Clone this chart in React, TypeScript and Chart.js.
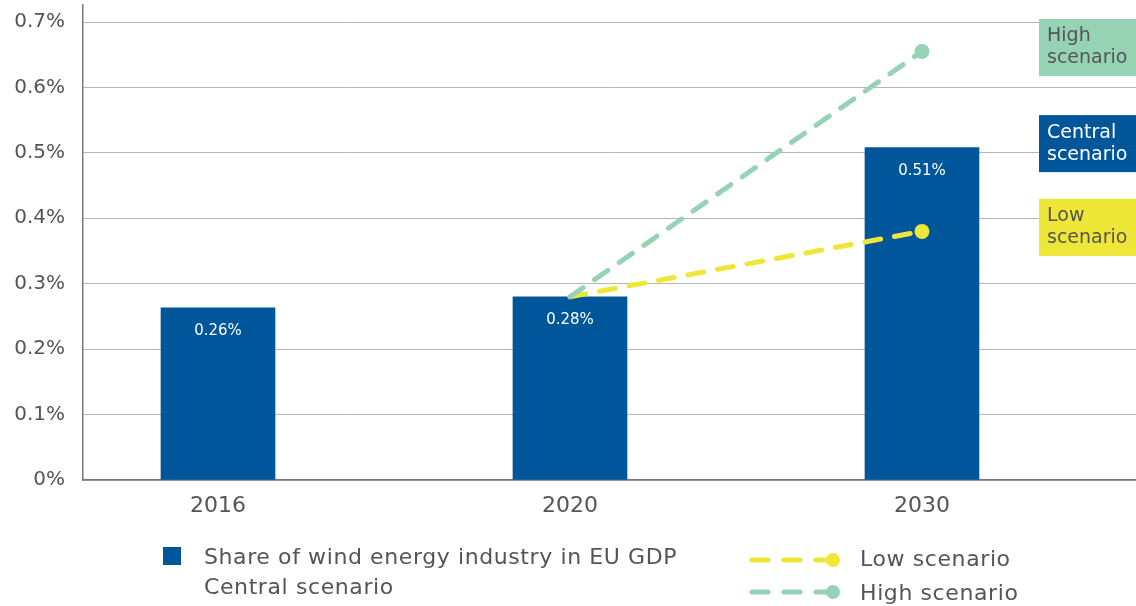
import React, { useEffect, useRef } from "react";
import { Chart, registerables } from "chart.js";

Chart.register(...registerables);

const years = ["2016", "2020", "2030"];
const yearPositions = [0, 1, 2];
const centralShare = [0.263, 0.28, 0.508];
const barLabels = ["0.26%", "0.28%", "0.51%"];
const lowScenario = [null, 0.28, 0.38];
const highScenario = [null, 0.28, 0.655];
const yTickValues = [0, 0.1, 0.2, 0.3, 0.4, 0.5, 0.6, 0.7];
const scenarioBoxes = [
  { lines: ["High", "scenario"], value: 0.655, bg: "#96d3b5", fg: "#555555" },
  { lines: ["Central", "scenario"], value: 0.508, bg: "#00569a", fg: "#ffffff" },
  { lines: ["Low", "scenario"], value: 0.38, bg: "#efe737", fg: "#555555" },
];
const legendBarLines = ["Share of wind energy industry in EU GDP", "Central scenario"];
const legendLines = [
  { label: "Low scenario", color: "#efe737" },
  { label: "High scenario", color: "#96d3b5" },
];

const FONT = "'DejaVu Sans', sans-serif";
const BLUE = "#00569a";
const YELLOW = "#efe737";
const GREEN = "#96d3b5";
const TEXT = "#555555";

function toPoints(arr: (number | null)[]) {
  const pts: { x: number; y: number }[] = [];
  arr.forEach((v, i) => {
    if (v !== null) pts.push({ x: yearPositions[i], y: v });
  });
  return pts;
}

const overlayPlugin = {
  id: "overlay",
  afterDatasetsDraw(chart: any) {
    const ctx = chart.ctx;
    const xs = chart.scales.x;
    const ys = chart.scales.y;
    ctx.save();
    ctx.fillStyle = "#ffffff";
    ctx.font = `15px ${FONT}`;
    ctx.textAlign = "center";
    ctx.textBaseline = "middle";
    centralShare.forEach((v, i) => {
      ctx.fillText(barLabels[i], xs.getPixelForValue(yearPositions[i]), ys.getPixelForValue(v) + 23);
    });
    ctx.restore();
  },
  afterDraw(chart: any) {
    const ctx = chart.ctx;
    const ys = chart.scales.y;
    const area = chart.chartArea;
    ctx.save();
    scenarioBoxes.forEach((b) => {
      const cy = ys.getPixelForValue(b.value) - 4;
      const h = 57;
      const left = area.right - 97;
      ctx.fillStyle = b.bg;
      ctx.fillRect(left, cy - h / 2, 97, h);
      ctx.fillStyle = b.fg;
      ctx.font = `19px ${FONT}`;
      ctx.textAlign = "left";
      ctx.textBaseline = "middle";
      ctx.fillText(b.lines[0], left + 8, cy - 11);
      ctx.fillText(b.lines[1], left + 8, cy + 11);
    });
    // legend
    ctx.fillStyle = BLUE;
    ctx.fillRect(163, 547, 18, 18);
    ctx.fillStyle = TEXT;
    ctx.font = `22px ${FONT}`;
    try {
      (ctx as any).letterSpacing = "0.6px";
    } catch (e) {}
    ctx.textAlign = "left";
    ctx.textBaseline = "alphabetic";
    ctx.fillText(legendBarLines[0], 204, 564);
    ctx.fillText(legendBarLines[1], 204, 594);
    legendLines.forEach((l, i) => {
      const y = 560 + i * 32;
      ctx.strokeStyle = l.color;
      ctx.lineWidth = 5;
      ctx.setLineDash([16, 16]);
      ctx.lineCap = "round";
      ctx.beginPath();
      ctx.moveTo(752, y);
      ctx.lineTo(832, y);
      ctx.stroke();
      ctx.setLineDash([]);
      ctx.fillStyle = l.color;
      ctx.beginPath();
      ctx.arc(833, y, 7, 0, Math.PI * 2);
      ctx.fill();
      ctx.fillStyle = TEXT;
      ctx.fillText(l.label, 860, 566 + i * 34);
    });
    ctx.restore();
  },
};

export default function App() {
  const ref = useRef<HTMLCanvasElement | null>(null);
  useEffect(() => {
    if (!ref.current) return;
    const lineStyle = {
      type: "line",
      borderWidth: 5,
      borderDash: [16, 14],
      borderCapStyle: "round",
      pointRadius: [0, 7.5],
      pointHoverRadius: [0, 7.5],
      pointBorderWidth: 0,
      fill: false,
      order: 0,
    };
    const chart = new Chart(ref.current, {
      type: "bar",
      data: {
        datasets: [
          {
            ...lineStyle,
            data: toPoints(highScenario),
            borderColor: GREEN,
            backgroundColor: GREEN,
          } as any,
          {
            ...lineStyle,
            data: toPoints(lowScenario),
            borderColor: YELLOW,
            backgroundColor: YELLOW,
          } as any,
          {
            type: "bar",
            data: centralShare.map((v, i) => ({ x: yearPositions[i], y: v })),
            backgroundColor: BLUE,
            barThickness: 114,
            order: 1,
          } as any,
        ],
      },
      options: {
        animation: false,
        responsive: false,
        maintainAspectRatio: false,
        layout: { autoPadding: false, padding: { top: 5, left: 0, right: 0, bottom: 0 } },
        plugins: { legend: { display: false }, tooltip: { enabled: false } },
        scales: {
          x: {
            type: "linear",
            min: -0.3835,
            max: 2.608,
            offset: false,
            afterBuildTicks: (s: any) => {
              s.ticks = yearPositions.map((v) => ({ value: v }));
            },
            afterFit: (s: any) => {
              s.height = 126;
              s.paddingLeft = 0;
              s.paddingRight = 0;
            },
            grid: { display: false, drawTicks: false },
            border: { display: true, color: "#777777", width: 1.5 },
            ticks: {
              padding: 13,
              color: TEXT,
              font: { family: FONT, size: 22 },
              callback: (v: any) => years[yearPositions.indexOf(Number(v))] ?? "",
              maxRotation: 0,
              autoSkip: false,
            },
          },
          y: {
            type: "linear",
            min: 0,
            max: 0.726,
            afterBuildTicks: (s: any) => {
              s.ticks = yTickValues.map((v) => ({ value: v }));
            },
            afterFit: (s: any) => {
              s.width = 83;
              s.paddingTop = 0;
              s.paddingBottom = 0;
            },
            grid: { color: "#b5b5b5", lineWidth: 1, drawTicks: false },
            border: { display: true, color: "#777777", width: 1.5 },
            ticks: {
              padding: 18,
              color: TEXT,
              font: { family: FONT, size: 20 },
              callback: (v: any) => (Number(v) === 0 ? "0%" : `${Number(v).toFixed(1)}%`),
            },
          },
        },
      },
      plugins: [overlayPlugin],
    } as any);
    return () => chart.destroy();
  }, []);
  return (
    <div style={{ position: "fixed", left: 0, top: 0, width: 1136, height: 606, background: "#ffffff" }}>
      <canvas ref={ref} width={1136} height={606} style={{ width: 1136, height: 606, display: "block" }} />
    </div>
  );
}
